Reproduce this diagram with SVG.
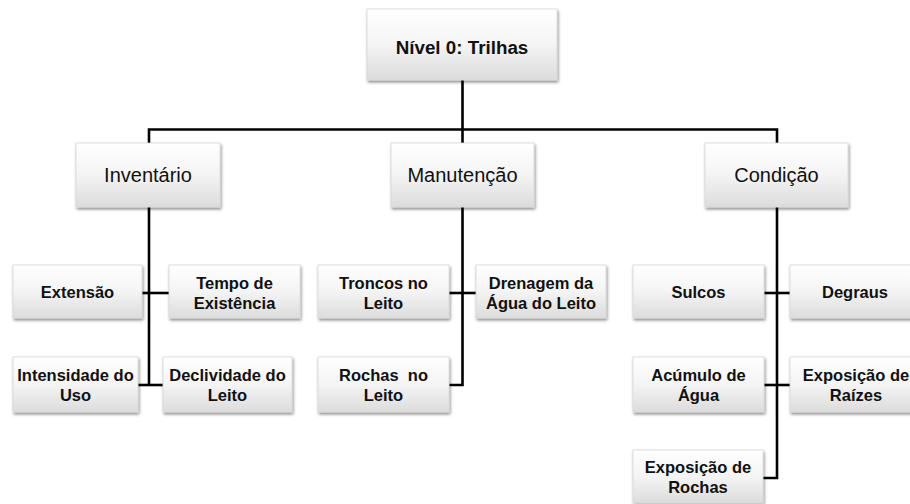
<svg xmlns="http://www.w3.org/2000/svg" width="910" height="504" viewBox="0 0 910 504">
<defs>
<linearGradient id="g" x1="0" y1="0" x2="0" y2="1">
<stop offset="0" stop-color="#ffffff"/>
<stop offset="0.5" stop-color="#f4f4f4"/>
<stop offset="1" stop-color="#dcdcdc"/>
</linearGradient>
<filter id="sh" x="-10%" y="-10%" width="130%" height="140%">
<feDropShadow dx="1" dy="2" stdDeviation="1.6" flood-color="#000" flood-opacity="0.45"/>
</filter>
</defs>
<style>
.box{fill:url(#g);stroke:#d6d6d6;stroke-width:0.8;filter:url(#sh)}
.t0{font-family:"Liberation Sans",Arial,sans-serif;font-weight:bold;font-size:18.8px;fill:#111;text-anchor:middle}
.t1{font-family:"Liberation Sans",Arial,sans-serif;font-size:20px;fill:#111;text-anchor:middle}
.t2{font-family:"Liberation Sans",Arial,sans-serif;font-weight:bold;font-size:16.5px;fill:#111;text-anchor:middle}
.c{fill:none;stroke:#000;stroke-width:2.6}
</style>
<rect width="910" height="504" fill="#fff"/>
<g id="connectors">
<path class="c" d="M462.5,80 V129.5"/>
<path class="c" d="M149,143 V129.5 H777 V143"/>
<path class="c" d="M462.5,129.5 V143"/>
<path class="c" d="M149,207 V385"/>
<path class="c" d="M142,293 H169"/>
<path class="c" d="M138,385 H163"/>
<path class="c" d="M462.5,207 V385 H449"/>
<path class="c" d="M449,293 H476"/>
<path class="c" d="M777,207 V478 H763"/>
<path class="c" d="M764,293 H790"/>
<path class="c" d="M764,385 H790"/>
</g>
<g id="root"><rect class="box" x="367" y="9" width="190" height="71"/><text class="t0" x="462" y="54">Nível 0: Trilhas</text></g>
<g id="inventario"><rect class="box" x="76" y="143" width="144" height="64"/><text class="t1" x="148" y="182">Inventário</text></g>
<g id="manutencao"><rect class="box" x="391" y="143" width="143" height="64"/><text class="t1" x="462.5" y="182">Manutenção</text></g>
<g id="condicao"><rect class="box" x="705" y="143" width="143" height="64"/><text class="t1" x="776.5" y="182">Condição</text></g>
<g id="extensao"><rect class="box" x="13" y="265" width="129" height="53"/><text class="t2" x="77.5" y="298">Extensão</text></g>
<g id="tempo"><rect class="box" x="169" y="265" width="131" height="53"/><text class="t2" x="234.5" y="288.5">Tempo de</text><text class="t2" x="234.5" y="308.5">Existência</text></g>
<g id="intensidade"><rect class="box" x="13" y="357" width="125" height="55"/><text class="t2" x="75.5" y="381">Intensidade do</text><text class="t2" x="75.5" y="401">Uso</text></g>
<g id="declividade"><rect class="box" x="163" y="357" width="129" height="55"/><text class="t2" x="227.5" y="381">Declividade do</text><text class="t2" x="227.5" y="401">Leito</text></g>
<g id="troncos"><rect class="box" x="318" y="265" width="131" height="53"/><text class="t2" x="383.5" y="288.5">Troncos no</text><text class="t2" x="383.5" y="308.5">Leito</text></g>
<g id="drenagem"><rect class="box" x="476" y="265" width="130" height="53"/><text class="t2" x="541" y="288.5">Drenagem da</text><text class="t2" x="541" y="308.5">Água do Leito</text></g>
<g id="rochas-leito"><rect class="box" x="318" y="357" width="131" height="55"/><text class="t2" x="383.5" y="381" xml:space="preserve">Rochas  no</text><text class="t2" x="383.5" y="401">Leito</text></g>
<g id="sulcos"><rect class="box" x="633" y="265" width="131" height="53"/><text class="t2" x="698.5" y="298">Sulcos</text></g>
<g id="degraus"><rect class="box" x="790" y="265" width="131" height="53"/><text class="t2" x="855" y="298">Degraus</text></g>
<g id="acumulo"><rect class="box" x="633" y="357" width="131" height="55"/><text class="t2" x="698.5" y="381">Acúmulo de</text><text class="t2" x="698.5" y="401">Água</text></g>
<g id="raizes"><rect class="box" x="790" y="357" width="131" height="55"/><text class="t2" x="856" y="381">Exposição de</text><text class="t2" x="856" y="401">Raízes</text></g>
<g id="rochas"><rect class="box" x="633" y="450" width="130" height="53"/><text class="t2" x="698" y="473">Exposição de</text><text class="t2" x="698" y="493">Rochas</text></g>
</svg>
